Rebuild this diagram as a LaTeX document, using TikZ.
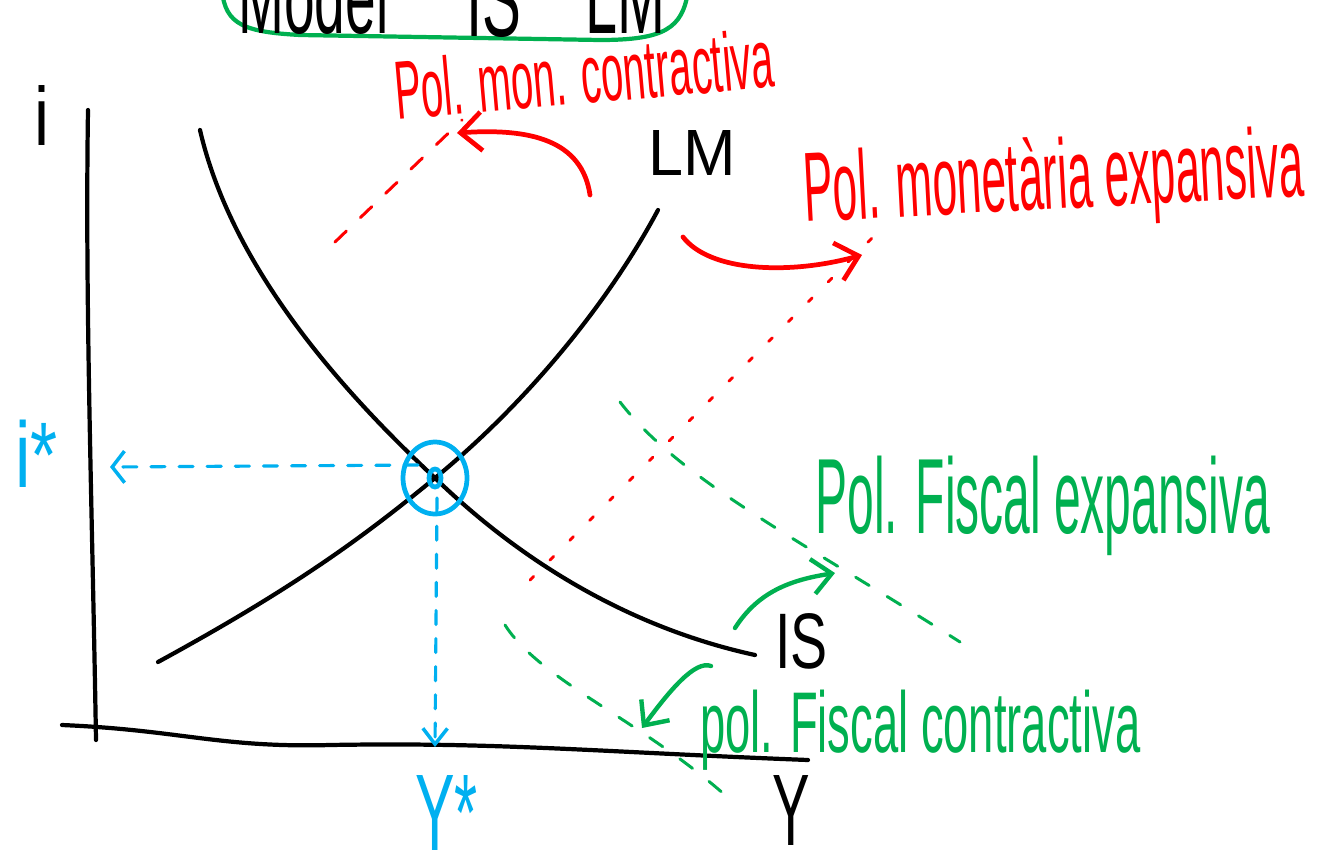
\documentclass[tikz,border=0pt]{standalone}
\usepackage{fontspec}
\setmainfont{Liberation Sans}
\usetikzlibrary{arrows.meta}
\definecolor{hred}{HTML}{FF0000}
\definecolor{hgreen}{HTML}{00B050}
\definecolor{hblue}{HTML}{00B0F0}
\newcommand\hw[3]{\resizebox{#1}{#2}{#3}}
\tikzset{
  curve/.style={line width=2.4pt, black, line cap=round},
  lbl/.style={inner sep=0pt, anchor=base west},
  reddash/.style={hred, line width=1.7pt, dash pattern=on 9pt off 11pt, line cap=round},
  reddot/.style={hred, line width=1.6pt, dash pattern=on 3pt off 13pt, line cap=round},
  greendash/.style={hgreen, line width=1.7pt, dash pattern=on 9pt off 12pt, line cap=round},
  bluedash/.style={hblue, line width=1.8pt, dash pattern=on 8pt off 8pt, line cap=round},
  redarrow/.style={hred, line width=2.7pt, line cap=round, -{Straight Barb[length=12pt,width=22pt,line width=2.7pt]}},
  greenarrow/.style={hgreen, line width=2.5pt, line cap=round, -{Straight Barb[length=11pt,width=20pt,line width=2.5pt]}},
}
\begin{document}
\begin{tikzpicture}[x=0.02cm,y=-0.02cm]
\useasboundingbox (0,0) rectangle (1327,859);
\clip (0,0) rectangle (1327,859);
\fill[white] (0,0) rectangle (1327,859);

% title box (cut off at top)
\draw[hgreen, line width=2.4pt] (222,-10) .. controls (225,25) and (245,32) .. (300,35) -- (600,40) .. controls (665,40) and (682,28) .. (688,-8);
\node[lbl] (tModel) at (238,33) {\hw{3cm}{1.5cm}{Model}};
\node[lbl] (tIS) at (466,36) {\hw{1.1cm}{1.5cm}{IS}};
\node[lbl] (tLM) at (585,33) {\hw{1.6cm}{1.5cm}{LM}};

% axes
\coordinate (yTop) at (88,110);
\coordinate (yBot) at (96,740);
\coordinate (xL) at (62,725);
\coordinate (xR) at (808,760);
\draw[curve] (yTop) .. controls (85,300) and (92,500) .. (yBot);
\draw[curve] (xL) .. controls (180,730) and (220,748) .. (330,745) .. controls (500,742) and (600,752) .. (xR);
\node[lbl] (ilab) at (34,145) {\hw{0.3cm}{1.2cm}{i}};
\node[lbl] (Ylab) at (772,845) {\hw{0.75cm}{1.4cm}{Y}};

% IS and LM
\coordinate (E) at (435,478);
\draw[curve] (200,130) .. controls (230,260) and (330,380) .. (E) .. controls (530,570) and (640,630) .. (755,655);
\draw[curve] (158,662) .. controls (290,590) and (360,540) .. (E) .. controls (530,400) and (610,300) .. (658,210);
\node[lbl] (LMlab) at (648,175) {\hw{1.75cm}{0.9cm}{LM}};
\node[lbl] (ISlab) at (775,668) {\hw{1.05cm}{1.1cm}{IS}};

% shifted LM curves
\draw[reddash] (335,242) -- (462,120);
\draw[reddot] (530,580) .. controls (650,460) and (780,330) .. (885,225);

% shifted IS curves
\draw[greendash] (620,402) .. controls (680,480) and (800,540) .. (960,642);
\draw[greendash] (505,625) .. controls (540,680) and (640,720) .. (725,795);

% red labels and arrows
\node[lbl, rotate=5, hred] (polMonC) at (397,120) {\hw{7.6cm}{1.2cm}{Pol. mon. contractiva}};
\node[lbl, rotate=3, hred] (polMonE) at (805,222) {\hw{10cm}{1.45cm}{Pol. monetària expansiva}};
\coordinate (rcS) at (590,195);
\coordinate (rcT) at (457,133);
\coordinate (reS) at (683,237);
\coordinate (reT) at (862,255);
\draw[redarrow] (rcS) .. controls (582,140) and (530,128) .. (rcT);
\draw[redarrow] (reS) .. controls (710,272) and (790,275) .. (reT);

% green labels and arrows
\node[lbl, hgreen] (polFisE) at (815,533) {\hw{9.1cm}{1.55cm}{Pol. Fiscal expansiva}};
\node[lbl, hgreen] (polFisC) at (700,752) {\hw{8.8cm}{1.25cm}{pol. Fiscal contractiva}};
\coordinate (geS) at (735,628);
\coordinate (geT) at (835,573);
\coordinate (gcS) at (711,666);
\coordinate (gcT) at (642,728);
\draw[greenarrow] (geS) .. controls (758,592) and (790,580) .. (geT);
\draw[greenarrow] (gcS) .. controls (695,660) and (670,690) .. (gcT);

% equilibrium marks
\draw[hblue, line width=2.7pt] (E) ellipse [x radius=32, y radius=36];
\draw[hblue, line width=2.7pt] (E) ellipse [x radius=6, y radius=9];
\coordinate (iT) at (110,467);
\coordinate (yT) at (435,747);
\draw[bluedash, -{Straight Barb[length=7pt,width=18pt,line width=2pt]}] (418,465) -- (iT);
\draw[bluedash, -{Straight Barb[length=9pt,width=14pt,line width=2pt]}] (437,498) -- (yT);
\node[lbl, hblue] (istar) at (15,487) {\hw{0.85cm}{1.35cm}{i*}};
\node[lbl, hblue] (Ystar) at (415,850) {\hw{1.25cm}{1.5cm}{Y*}};
\end{tikzpicture}
\end{document}
